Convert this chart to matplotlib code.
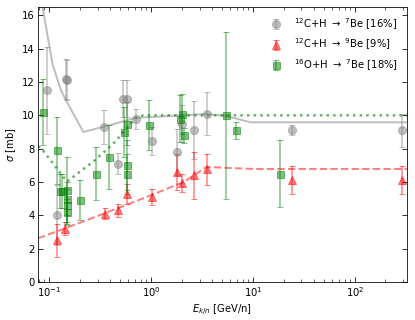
import numpy as np
import matplotlib
matplotlib.use("Agg")
import matplotlib.pyplot as plt

# 12C+H -> 7Be data
c7_E = [0.096, 0.121, 0.146, 0.150, 0.349, 0.47, 0.527, 0.582, 0.713, 1.02, 1.8, 2.04, 2.62, 3.51, 24.4, 289]
c7_sig = [11.5, 4.0, 12.2, 12.1, 9.3, 7.1, 11.0, 11.0, 9.8, 8.45, 7.8, 9.5, 9.1, 10.1, 9.1, 9.1]
c7_err = [2.6, 1.8, 1.2, 1.2, 1.0, 0.65, 1.1, 1.1, 0.6, 0.85, 1.4, 1.1, 1.75, 1.3, 0.3, 1.0]

# 12C+H -> 9Be data
c9_E = [0.121, 0.144, 0.354, 0.47, 0.58, 1.02, 1.8, 2.04, 2.62, 3.55, 24.4, 289]
c9_sig = [2.5, 3.2, 4.1, 4.3, 5.3, 5.1, 6.6, 5.95, 6.4, 6.75, 6.1, 6.1]
c9_err = [1.0, 0.4, 0.35, 0.4, 0.6, 0.5, 1.1, 0.55, 1.4, 0.95, 0.85, 0.85]

# 16O+H -> 7Be data
o7_E = [0.0865, 0.119, 0.129, 0.135, 0.149, 0.149, 0.149, 0.149, 0.203, 0.289, 0.39,
        0.54, 0.58, 0.58, 0.58, 0.96, 1.94, 2.04, 2.12, 5.5, 6.8, 18.4]
o7_sig = [10.2, 7.9, 5.45, 5.45, 5.5, 5.0, 4.6, 4.2, 4.9, 6.5, 7.5,
          9.0, 9.5, 7.0, 6.5, 9.4, 9.8, 10.1, 8.8, 10.0, 9.1, 6.5]
o7_err = [2.0, 2.0, 1.0, 1.0, 2.0, 1.0, 1.0, 0.8, 1.2, 1.6, 1.9,
          1.5, 1.3, 1.5, 1.2, 1.5, 1.4, 1.2, 0.45, 5.0, 0.5, 2.0]

# model curves
c7_mod_E = [0.078, 0.0865, 0.108, 0.131, 0.147, 0.217, 0.362, 0.713, 3.5, 5.5, 9.5, 325]
c7_mod = [18.2, 16.5, 13.1, 11.5, 10.9, 9.0, 9.35, 9.85, 10.08, 9.96, 9.58, 9.58]
c9_mod_E = [0.078, 0.145, 0.44, 1.0, 2.1, 3.5, 10, 325]
c9_mod = [2.62, 3.22, 4.35, 5.2, 6.0, 6.9, 6.78, 6.78]
o7_mod_E = [0.078, 0.0855, 0.15, 0.284, 0.447, 0.70, 0.84, 325]
o7_mod = [8.15, 7.96, 6.02, 7.32, 8.42, 9.82, 10.0, 10.0]

fig = plt.figure(figsize=(415/72, 320/72), dpi=72)
ax = fig.add_axes([0.0916, 0.119, 0.889, 0.859])

ax.plot(c7_mod_E, c7_mod, '-', color='gray', lw=2, alpha=0.5)
ax.plot(c9_mod_E, c9_mod, '--', color='red', lw=2, alpha=0.5)
ax.plot(o7_mod_E, o7_mod, ':', color='green', lw=2.5, alpha=0.6)

ax.errorbar(c7_E, c7_sig, yerr=c7_err, fmt='o', color='gray', ms=8, capsize=3,
            alpha=0.5, label=r'$^{12}$C+H $\rightarrow$ $^{7}$Be [16%]')
ax.errorbar(c9_E, c9_sig, yerr=c9_err, fmt='^', color='red', ms=8, capsize=3,
            alpha=0.5, label=r'$^{12}$C+H $\rightarrow$ $^{9}$Be [9%]')
ax.errorbar(o7_E, o7_sig, yerr=o7_err, fmt='s', color='green', ms=7, capsize=3,
            alpha=0.5, label=r'$^{16}$O+H $\rightarrow$ $^{7}$Be [18%]')

ax.set_xscale('log')
ax.set_xlim(0.078, 325)
ax.set_ylim(0, 16.5)
ax.set_yticks(np.arange(0, 17, 2))
ax.tick_params(which='both', direction='in', top=True, right=True)
ax.tick_params(which='major', length=5)
ax.tick_params(which='minor', length=3)
ax.set_xlabel(r'$E_{k/n}$ [GeV/n]')
ax.set_ylabel(r'$\sigma$ [mb]')
ax.legend(loc='upper right', frameon=False)

fig.savefig('out.png', dpi=72)
